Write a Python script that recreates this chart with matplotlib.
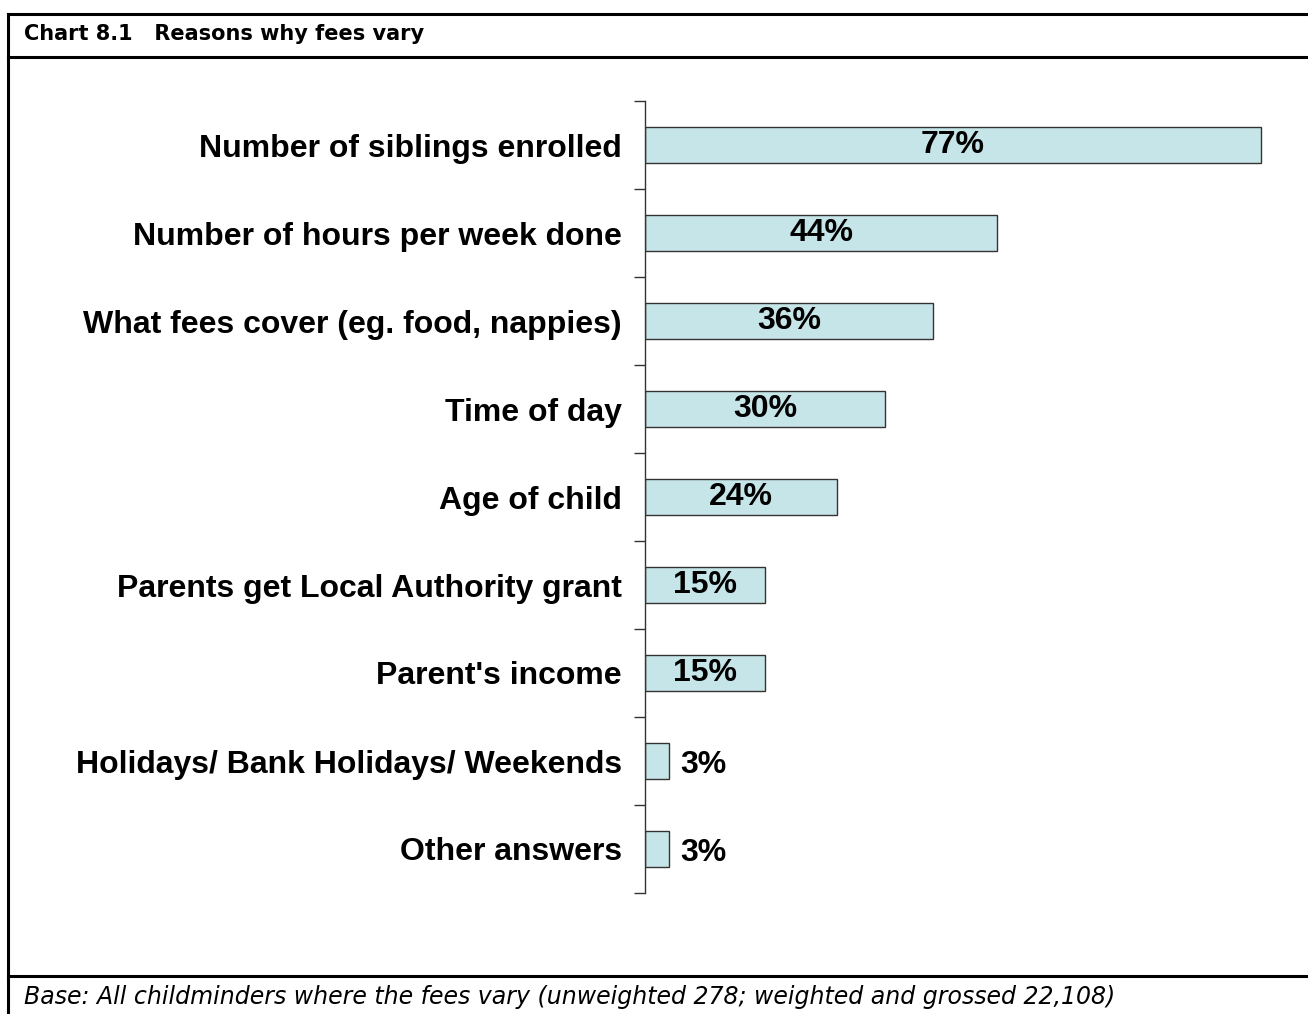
import matplotlib
matplotlib.use("Agg")
import matplotlib.pyplot as plt
from matplotlib.lines import Line2D

categories = [
    "Number of siblings enrolled",
    "Number of hours per week done",
    "What fees cover (eg. food, nappies)",
    "Time of day",
    "Age of child",
    "Parents get Local Authority grant",
    "Parent's income",
    "Holidays/ Bank Holidays/ Weekends",
    "Other answers",
]
values = [77, 44, 36, 30, 24, 15, 15, 3, 3]
value_labels = ["77%", "44%", "36%", "30%", "24%", "15%", "15%", "3%", "3%"]

title = "Chart 8.1   Reasons why fees vary"
footer = "Base: All childminders where the fees vary (unweighted 278; weighted and grossed 22,108)"

W, H = 1308, 1014
fig = plt.figure(figsize=(W / 100, H / 100), dpi=100)

def fx(px):
    return px / W

def fy(py):
    return 1 - py / H

# Frame lines
lw = 2.2
fig.add_artist(Line2D([fx(8), fx(8)], [fy(14), fy(1014)], color="black", lw=lw))
fig.add_artist(Line2D([fx(8), 1], [fy(14), fy(14)], color="black", lw=lw))
fig.add_artist(Line2D([fx(8), 1], [fy(57), fy(57)], color="black", lw=lw))
fig.add_artist(Line2D([fx(8), 1], [fy(976), fy(976)], color="black", lw=lw))

fig.text(fx(24), fy(34), title, fontsize=15, fontweight="bold",
         family="DejaVu Sans", va="center", ha="left")
fig.text(fx(24), fy(997), footer, fontsize=17, style="italic",
         family="DejaVu Sans", va="center", ha="left")

# Axes
ax_left, ax_right = 645, 1285
ax_top, ax_bot = 101, 893
ax = fig.add_axes([fx(ax_left), fy(ax_bot), (ax_right - ax_left) / W, (ax_bot - ax_top) / H])

n = len(categories)
ypos = list(range(n))
ax.barh(ypos, values, height=0.41, color="#C6E5E8", edgecolor="#333333", linewidth=1.0)
ax.set_xlim(0, 80)
ax.set_ylim(n - 0.5, -0.5)

for s in ["top", "right", "bottom"]:
    ax.spines[s].set_visible(False)
ax.spines["left"].set_linewidth(1.0)
ax.spines["left"].set_color("#333333")
ax.set_xticks([])

ax.set_yticks(ypos)
ax.set_yticklabels(categories, fontsize=23, fontweight="bold", family="Liberation Sans")
ax.tick_params(axis="y", which="major", length=0, pad=16.5)
ax.set_yticks([i - 0.5 for i in range(n + 1)], minor=True)
ax.tick_params(axis="y", which="minor", length=8, width=1.0, color="#333333")

for i, (v, lab) in enumerate(zip(values, value_labels)):
    if v >= 10:
        ax.text(v / 2, i, lab, ha="center", va="center", fontsize=23,
                fontweight="bold", family="Liberation Sans")
    else:
        ax.text(v + 1.4, i + 0.05, lab, ha="left", va="center", fontsize=23,
                fontweight="bold", family="Liberation Sans")

fig.savefig("out.png", dpi=100)
